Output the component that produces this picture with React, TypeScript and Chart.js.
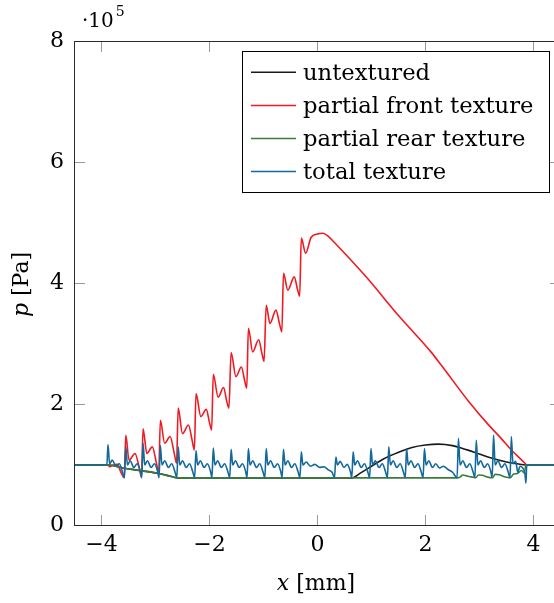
import { useEffect, useRef } from 'react';
import { Chart, registerables } from 'chart.js';

Chart.register(...registerables);

type Pt = [number, number];

const xTicks = [-4, -2, 0, 2, 4];
const yTicks = [0, 2, 4, 6, 8];
const xRange = [-4.5, 4.5];
const yRange = [0, 8];
const seriesLabels = ['untextured', 'partial front texture', 'partial rear texture', 'total texture'];
const seriesColors = ['#1a1a1a', '#f01a22', '#3a7d3a', '#14699b'];

// pressure in units of 1e5 Pa
const untextured: Pt[] = [
  [-4.5, 1.0], [-3.86, 1.0], [-3.6, 0.95], [-3.3, 0.91], [-2.93, 0.86], [-2.75, 0.82], [-2.62, 0.79],
  [-2.5, 0.787], [0.63, 0.787], [0.8, 0.87], [1.0, 0.98], [1.22, 1.1], [1.5, 1.21], [1.75, 1.29],
  [2.0, 1.33], [2.24, 1.345], [2.5, 1.32], [2.77, 1.25], [3.0, 1.18], [3.2, 1.12], [3.5, 1.05],
  [3.7, 1.02], [3.86, 1.0], [4.5, 1.0],
];

const partialFront: Pt[] = [
  [-4.5, 1.0], [-3.88, 1.0], [-3.85, 0.97], [-3.78, 1.0], [-3.71, 1.01], [-3.64, 0.88], [-3.58, 0.79],
  [-3.55, 1.49], [-3.49, 1.08], [-3.38, 1.19], [-3.3, 0.95], [-3.26, 0.8],
  [-3.23, 1.6], [-3.16, 1.19], [-3.06, 1.3], [-2.98, 1.02], [-2.94, 0.86],
  [-2.91, 1.74], [-2.83, 1.36], [-2.73, 1.47], [-2.65, 1.18], [-2.61, 1.03],
  [-2.58, 1.94], [-2.5, 1.52], [-2.39, 1.66], [-2.32, 1.4], [-2.28, 1.25],
  [-2.25, 2.18], [-2.16, 1.8], [-2.06, 1.92], [-2.0, 1.7], [-1.96, 1.58],
  [-1.93, 2.5], [-1.84, 2.12], [-1.74, 2.28], [-1.68, 2.05], [-1.64, 1.94],
  [-1.6, 2.86], [-1.51, 2.46], [-1.41, 2.62], [-1.35, 2.4], [-1.31, 2.27],
  [-1.28, 3.26], [-1.2, 2.87], [-1.09, 3.07], [-1.03, 2.85], [-0.99, 2.71],
  [-0.95, 3.64], [-0.88, 3.34], [-0.77, 3.56], [-0.7, 3.32], [-0.66, 3.2],
  [-0.63, 4.17], [-0.55, 3.89], [-0.43, 4.11], [-0.37, 3.9], [-0.33, 3.79],
  [-0.3, 4.75], [-0.22, 4.5], [-0.12, 4.76], [0.0, 4.82], [0.1, 4.83], [0.2, 4.78], [0.3, 4.69],
  [0.9, 4.11], [1.5, 3.47], [2.1, 2.87], [2.3, 2.64], [2.8, 2.05], [3.15, 1.68], [3.4, 1.44],
  [3.6, 1.24], [3.85, 1.02], [3.87, 1.0], [4.5, 1.0],
];

const partialRear: Pt[] = [
  [-4.5, 1.0], [-3.86, 1.0], [-3.6, 0.95], [-3.3, 0.91], [-2.93, 0.86], [-2.75, 0.82], [-2.62, 0.79],
  [-2.5, 0.787], [2.58, 0.787], [2.64, 0.8], [2.69, 0.835], [2.76, 0.82], [2.86, 0.8], [2.93, 0.79],
  [2.98, 0.835], [3.05, 0.83], [3.15, 0.8], [3.24, 0.79], [3.29, 0.845], [3.37, 0.84], [3.48, 0.8],
  [3.57, 0.79], [3.63, 0.85], [3.7, 0.86], [3.78, 0.91], [3.83, 0.87], [3.86, 1.0], [4.5, 1.0],
];

const totalTexture: Pt[] = [
  [-4.5, 1.0],
  [-3.9, 1.0], [-3.88, 1.34], [-3.85, 1.02], [-3.8, 1.08], [-3.73, 0.98], [-3.67, 1.02], [-3.61, 0.88], [-3.575, 0.79],
  [-3.55, 1.3], [-3.52, 1.0], [-3.47, 1.07], [-3.4, 0.96], [-3.34, 1.02], [-3.28, 0.89], [-3.255, 0.79],
  [-3.23, 1.36], [-3.2, 1.0], [-3.15, 1.07], [-3.08, 0.96], [-3.02, 1.02], [-2.96, 0.89], [-2.935, 0.79],
  [-2.91, 1.32], [-2.88, 1.0], [-2.83, 1.07], [-2.76, 0.96], [-2.7, 1.02], [-2.64, 0.89], [-2.605, 0.79],
  [-2.58, 1.3], [-2.55, 1.0], [-2.5, 1.07], [-2.43, 0.96], [-2.37, 1.02], [-2.31, 0.89], [-2.275, 0.79],
  [-2.25, 1.24], [-2.22, 1.0], [-2.17, 1.07], [-2.1, 0.96], [-2.04, 1.02], [-1.98, 0.89], [-1.955, 0.79],
  [-1.93, 1.28], [-1.9, 1.0], [-1.85, 1.07], [-1.78, 0.96], [-1.72, 1.02], [-1.66, 0.89], [-1.625, 0.79],
  [-1.6, 1.26], [-1.57, 1.0], [-1.52, 1.07], [-1.45, 0.96], [-1.39, 1.02], [-1.33, 0.89], [-1.305, 0.79],
  [-1.28, 1.27], [-1.25, 1.0], [-1.2, 1.07], [-1.13, 0.96], [-1.07, 1.02], [-1.01, 0.89], [-0.975, 0.79],
  [-0.95, 1.27], [-0.92, 1.0], [-0.87, 1.07], [-0.8, 0.96], [-0.74, 1.02], [-0.68, 0.89], [-0.655, 0.79],
  [-0.63, 1.26], [-0.6, 1.0], [-0.55, 1.07], [-0.48, 0.96], [-0.42, 1.02], [-0.36, 0.89], [-0.325, 0.79],
  [-0.3, 1.22], [-0.27, 1.0], [-0.21, 1.05], [-0.13, 0.98], [-0.05, 1.01], [0.04, 0.96], [0.12, 0.97], [0.2, 0.92], [0.27, 0.88], [0.315, 0.79],
  [0.34, 1.13], [0.37, 1.0], [0.42, 1.06], [0.49, 0.96], [0.55, 1.01], [0.61, 0.89], [0.635, 0.79],
  [0.66, 1.22], [0.69, 1.0], [0.74, 1.07], [0.81, 0.96], [0.87, 1.02], [0.93, 0.89], [0.965, 0.79],
  [0.99, 1.27], [1.02, 1.0], [1.07, 1.07], [1.14, 0.96], [1.2, 1.02], [1.26, 0.89], [1.295, 0.79],
  [1.32, 1.3], [1.35, 1.0], [1.4, 1.07], [1.47, 0.96], [1.53, 1.02], [1.59, 0.89], [1.625, 0.79],
  [1.65, 1.27], [1.68, 1.0], [1.73, 1.07], [1.8, 0.96], [1.86, 1.02], [1.92, 0.89], [1.955, 0.79],
  [1.98, 1.27], [2.01, 1.0], [2.06, 1.07], [2.13, 0.96], [2.19, 1.02], [2.26, 0.95], [2.33, 0.98], [2.41, 0.93], [2.5, 0.88], [2.585, 0.79],
  [2.61, 1.44], [2.64, 1.0], [2.69, 1.07], [2.76, 0.96], [2.82, 1.02], [2.88, 0.89], [2.915, 0.79],
  [2.94, 1.41], [2.97, 1.0], [3.02, 1.07], [3.09, 0.96], [3.15, 1.02], [3.21, 0.89], [3.235, 0.79],
  [3.26, 1.49], [3.29, 1.0], [3.34, 1.07], [3.41, 0.96], [3.47, 1.02], [3.53, 0.89], [3.565, 0.79],
  [3.59, 1.47], [3.62, 1.02], [3.67, 1.06], [3.71, 0.88], [3.75, 0.98], [3.8, 0.95], [3.84, 0.86], [3.86, 0.7], [3.875, 1.0],
  [4.5, 1.0],
];

const allSeries = [untextured, partialFront, partialRear, totalTexture];

const SERIF = '"DejaVu Serif", serif';
const fmt = (v: number) => (v < 0 ? '\u2212' + Math.abs(v) : String(v));

function drawParts(ctx: CanvasRenderingContext2D, parts: { t: string; f: string }[], cx: number, cy: number) {
  const widths = parts.map((p) => {
    ctx.font = p.f;
    return ctx.measureText(p.t).width;
  });
  const total = widths.reduce((a, b) => a + b, 0);
  let x = cx - total / 2;
  parts.forEach((p, i) => {
    ctx.font = p.f;
    ctx.fillText(p.t, x, cy);
    x += widths[i];
  });
}

const decorPlugin = {
  id: 'decor',
  afterDatasetsDraw(chart: any) {
    const { ctx, chartArea } = chart;
    const { left, right, top, bottom } = chartArea;
    const xs = chart.scales.x;
    const ys = chart.scales.y;
    ctx.save();
    // ticks
    ctx.strokeStyle = '#9a9a9a';
    ctx.lineWidth = 1;
    const TL = 10.5;
    ctx.beginPath();
    xTicks.forEach((v) => {
      const px = xs.getPixelForValue(v);
      ctx.moveTo(px, bottom);
      ctx.lineTo(px, bottom - TL);
      ctx.moveTo(px, top);
      ctx.lineTo(px, top + TL);
    });
    yTicks.forEach((v) => {
      const py = ys.getPixelForValue(v);
      ctx.moveTo(left, py);
      ctx.lineTo(left + TL, py);
      ctx.moveTo(right, py);
      ctx.lineTo(right - TL, py);
    });
    ctx.stroke();
    // frame
    ctx.strokeStyle = '#2a2a2a';
    ctx.lineWidth = 1;
    ctx.strokeRect(left, top, right - left, bottom - top);

    // legend
    const bx = 242.5, by = 51.5, bw = 307, bh = 141;
    ctx.fillStyle = '#ffffff';
    ctx.fillRect(bx, by, bw, bh);
    ctx.strokeStyle = '#000000';
    ctx.strokeRect(bx, by, bw, bh);
    const dsList = chart.data.datasets;
    dsList.forEach((ds: any, i: number) => {
      const ly = 72.3 + i * 33.1;
      ctx.strokeStyle = ds.borderColor;
      ctx.lineWidth = 1.5;
      ctx.beginPath();
      ctx.moveTo(251, ly);
      ctx.lineTo(296, ly);
      ctx.stroke();
      ctx.fillStyle = '#000000';
      ctx.font = `22.7px ${SERIF}`;
      ctx.textAlign = 'left';
      ctx.textBaseline = 'alphabetic';
      ctx.fillText(ds.label, 303, ly + 7.5);
    });

    // axis titles
    ctx.fillStyle = '#000000';
    ctx.textBaseline = 'alphabetic';
    ctx.textAlign = 'left';
    drawParts(ctx, [
      { t: 'x', f: `italic 22px ${SERIF}` },
      { t: ' [mm]', f: `22px ${SERIF}` },
    ], 316, 590);
    ctx.save();
    ctx.translate(28, 284.5);
    ctx.rotate(-Math.PI / 2);
    drawParts(ctx, [
      { t: 'p', f: `italic 22px ${SERIF}` },
      { t: ' [Pa]', f: `22px ${SERIF}` },
    ], 0, 0);
    ctx.restore();

    // exponent label
    ctx.font = `20px ${SERIF}`;
    ctx.fillText('\u00b710', 82, 27);
    const w = ctx.measureText('\u00b710').width;
    ctx.font = `14px ${SERIF}`;
    ctx.fillText('5', 82 + w + 2, 15.5);
    ctx.restore();
  },
};

export default function App() {
  const ref = useRef<HTMLCanvasElement | null>(null);
  useEffect(() => {
    if (!ref.current) return;
    const chart = new Chart(ref.current, {
      type: 'line',
      data: {
        datasets: allSeries.map((s, i) => ({
          label: seriesLabels[i],
          data: s.map(([x, y]) => ({ x, y })),
          borderColor: seriesColors[i],
          backgroundColor: seriesColors[i],
          borderWidth: 1.6,
          pointRadius: 0,
          pointHoverRadius: 0,
          cubicInterpolationMode: 'monotone' as const,
          borderJoinStyle: 'round' as const,
          fill: false,
          order: allSeries.length - 1 - i,
        })),
      },
      options: {
        responsive: false,
        animation: false,
        devicePixelRatio: 1,
        events: [],
        layout: { padding: { top: 41.5, right: 11.5, left: 0, bottom: 0 } },
        plugins: { legend: { display: false }, tooltip: { enabled: false } },
        scales: {
          x: {
            type: 'linear',
            min: xRange[0],
            max: xRange[1],
            afterFit: (s: any) => { s.height = 77.5; },
            afterBuildTicks: (s: any) => { s.ticks = xTicks.map((v) => ({ value: v })); },
            ticks: {
              font: { family: SERIF, size: 22 },
              color: '#000',
              padding: 7,
              maxRotation: 0,
              autoSkip: false,
              callback: (v: any) => fmt(Number(v)),
            },
            grid: { display: false, drawTicks: false },
            border: { display: false },
          },
          y: {
            type: 'linear',
            min: yRange[0],
            max: yRange[1],
            afterFit: (s: any) => { s.width = 74.5; },
            afterBuildTicks: (s: any) => { s.ticks = yTicks.map((v) => ({ value: v })); },
            ticks: {
              font: { family: SERIF, size: 22 },
              color: '#000',
              padding: 10.5,
              autoSkip: false,
              callback: (v: any) => fmt(Number(v)),
            },
            grid: { display: false, drawTicks: false },
            border: { display: false },
          },
        },
      },
      plugins: [decorPlugin],
    });
    return () => chart.destroy();
  }, []);
  return (
    <div style={{ position: 'absolute', left: 0, top: 0, width: 554, height: 603, overflow: 'hidden', background: '#fff' }}>
      <canvas ref={ref} width={572} height={603} style={{ display: 'block', width: 572, height: 603 }} />
    </div>
  );
}
